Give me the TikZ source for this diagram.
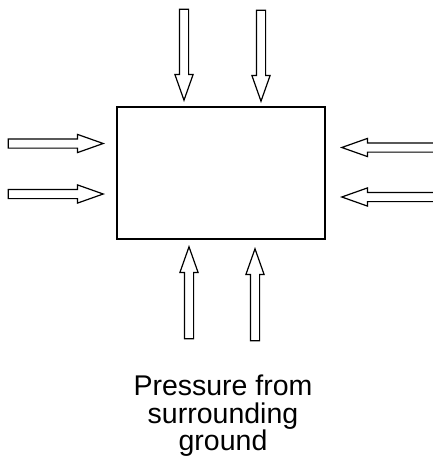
\documentclass[tikz,border=0pt]{standalone}
\usepackage{fontspec}
\setmainfont{Liberation Sans}
\usetikzlibrary{shapes.arrows}
\tikzset{ground/.style={
    rectangle,draw=black,line width=1.4pt,
    minimum width=208pt,minimum height=132pt}
}
\tikzset{push/.style={
    single arrow,draw=black,line width=1.2pt,fill=white,
    inner xsep=0pt,inner ysep=4pt,minimum width=8pt,
    single arrow head extend=4.5pt,
    single arrow tip angle=39,
    anchor=tip,minimum height=#1}
}
\tikzset{caption/.style={
    align=center,inner sep=0pt,
    font=\fontsize{28.5}{27.5}\selectfont}
}
\begin{document}
\begin{tikzpicture}[x=1pt,y=-1pt]
    \useasboundingbox (0,0) rectangle (432,466);
    % the buried box
    \node (box) [ground] at (221,173) {};
    % from above
    \node (top1) [push=91pt,rotate=-90] at (184,102) {};
    \node (top2) [push=91pt,rotate=-90] at (261,103) {};
    % from the left
    \node (left1) [push=95pt] at (105,143.5) {};
    \node (left2) [push=95pt] at (105,194) {};
    % from the right
    \node (right1) [push=100pt,rotate=180] at (340,147.5) {};
    \node (right2) [push=100pt,rotate=180] at (340,197) {};
    % from below
    \node (bot1) [push=92pt,rotate=90] at (189,245) {};
    \node (bot2) [push=92pt,rotate=90] at (255,247) {};
    % label
    \node (lbl) [caption] at (223,416) {Pressure from\\surrounding\\ground};
\end{tikzpicture}
\end{document}
